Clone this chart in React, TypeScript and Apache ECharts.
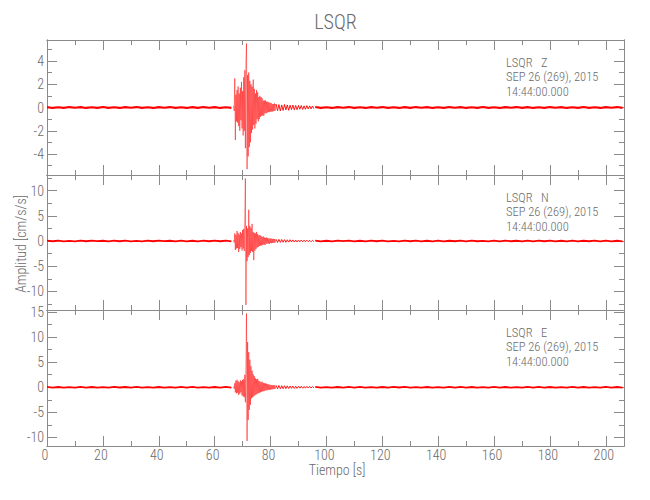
import React, { useEffect, useRef } from "react";
import * as echarts from "echarts";

// ---------- texts ----------
const TITLE = "LSQR";
const STATION = "LSQR";
const COMPONENTS = ["Z", "N", "E"];
const DATE_LINE = "SEP 26 (269), 2015";
const TIME_LINE = "14:44:00.000";
const X_NAME = "Tiempo [s]";
const Y_NAME = "Amplitud [cm/s/s]";

// ---------- axes ----------
const X_MIN = 0;
const X_MAX = 206.5;
const X_MAJOR = [0, 20, 40, 60, 80, 100, 120, 140, 160, 180, 200];
const X_MINOR = [10, 30, 50, 70, 90, 110, 130, 150, 170, 190];

const Y_MIN = [-5.8, -13.7, -11.7];
const Y_MAX = [5.8, 13.1, 15.4];
const Y_MAJOR = [
  [-4, -2, 0, 2, 4],
  [-10, -5, 0, 5, 10],
  [-10, -5, 0, 5, 10, 15],
];
const Y_MINOR = [
  [-5, -3, -1, 1, 3, 5],
  [-12.5, -7.5, -2.5, 2.5, 7.5, 12.5],
  [-7.5, -2.5, 2.5, 7.5, 12.5],
];

// ---------- sampling of each trace segment (time in s) ----------
const PRE_START = 0;
const PRE_STEP = 2;
const BURST_START = 66.8;
const BURST_STEP = 0.2;
const TAIL_START = 82;
const TAIL_STEP = 0.5;
const POST_START = 96;
const POST_STEP = 2;

// ---------- Z component (cm/s/s) ----------
const zPre = [
  0.03, -0.04, 0.02, -0.03, 0.04, -0.02, 0.03, -0.04, 0.02, -0.03,
  0.04, -0.03, 0.02, -0.04, 0.03, -0.02, 0.04, -0.03, 0.02, -0.04,
  0.03, -0.02, 0.04, -0.03, 0.02, -0.04, 0.03, -0.03, 0.04, -0.02,
  0.03, -0.04, 0.02, -0.03,
];
const zBurst = [
  0.15, -0.3, 2.5, -2.8, 1.1, -1.2, 1.5, -1.3, 1.8, -1.6,
  1.2, -2.0, 1.7, -1.1, 2.2, -1.8, 1.4, -2.4, 2.6, -2.0,
  3.2, -3.5, 3.8, 5.5, -5.3, 2.8, -4.2, 3.0, -3.4, 2.3,
  -3.0, 2.0, -2.2, 1.8, -1.9, 2.4, -1.5, 1.6, -1.8, 1.2,
  -1.4, 1.5, -1.0, 1.3, -1.2, 0.9, -1.0, 1.0, -0.8, 0.9,
  -0.7, 0.8, -0.7, 0.6, -0.7, 0.6, -0.5, 0.6, -0.5, 0.5,
  -0.45, 0.5, -0.4, 0.45, -0.4, 0.4, -0.35, 0.4, -0.35, 0.3,
  -0.35, 0.3, -0.3, 0.35, -0.3, 0.28,
];
const zTail = [
  0.3, -0.28, 0.25, -0.3, 0.22, -0.25, 0.26, -0.2, 0.22, -0.24,
  0.2, -0.18, 0.21, -0.2, 0.17, -0.19, 0.18, -0.15, 0.17, -0.16,
  0.14, -0.15, 0.16, -0.13, 0.14, -0.12, 0.13, -0.1,
];
const zPost = [
  0.04, -0.03, 0.02, -0.04, 0.03, -0.02, 0.04, -0.03, 0.02, -0.04,
  0.03, -0.02, 0.04, -0.03, 0.02, -0.04, 0.03, -0.03, 0.04, -0.02,
  0.03, -0.04, 0.02, -0.03, 0.04, -0.02, 0.03, -0.04, 0.02, -0.03,
  0.04, -0.03, 0.02, -0.04, 0.03, -0.02, 0.04, -0.03, 0.03, -0.04,
  0.02, -0.03, 0.04, -0.02, 0.03, -0.04, 0.02, -0.03, 0.04, -0.03,
  0.02, -0.04, 0.03, -0.02, 0.04, -0.03,
];

// ---------- N component ----------
const nPre = [
  0.06, -0.05, 0.07, -0.06, 0.04, -0.07, 0.06, -0.05, 0.07, -0.04,
  0.05, -0.07, 0.06, -0.05, 0.07, -0.06, 0.04, -0.07, 0.06, -0.05,
  0.07, -0.04, 0.05, -0.07, 0.06, -0.06, 0.05, -0.07, 0.06, -0.05,
  0.06, -0.05, 0.07, -0.06,
];
const nBurst = [
  0.2, -0.3, 1.5, -1.8, 1.2, -1.5, 2.0, -1.4, 1.6, -2.2,
  1.3, -1.6, 1.8, -1.2, 1.5, -1.9, 2.2, -1.5, 2.4, -2.0,
  4.5, 12.4, -12.7, 3.0, -4.0, 2.5, -3.2, 6.2, -2.8, 3.0,
  -2.4, 2.6, -2.0, 3.4, -2.2, 1.8, -3.8, 1.6, -1.9, 1.5,
  -1.6, 1.8, -1.3, 1.4, -1.2, 1.1, -1.0, 1.2, -0.9, 1.0,
  -0.9, 0.8, -0.8, 0.9, -0.7, 0.7, -0.8, 0.6, -0.6, 0.7,
  -0.5, 0.6, -0.5, 0.5, -0.6, 0.5, -0.4, 0.5, -0.45, 0.4,
  -0.4, 0.45, -0.35, 0.4, -0.35, 0.3,
];
const nTail = [
  0.35, -0.3, 0.32, -0.28, 0.3, -0.25, 0.27, -0.26, 0.24, -0.22,
  0.25, -0.2, 0.22, -0.21, 0.19, -0.2, 0.18, -0.17, 0.19, -0.16,
  0.17, -0.15, 0.16, -0.15, 0.14, -0.15, 0.13, -0.12,
];
const nPost = [
  0.06, -0.07, 0.05, -0.06, 0.07, -0.04, 0.06, -0.07, 0.05, -0.07,
  0.06, -0.05, 0.07, -0.06, 0.04, -0.07, 0.06, -0.05, 0.07, -0.06,
  0.05, -0.07, 0.06, -0.07, 0.05, -0.05, 0.07, -0.06, 0.07, -0.05,
  0.04, -0.07, 0.06, -0.06, 0.07, -0.05, 0.05, -0.07, 0.07, -0.06,
  0.06, -0.05, 0.07, -0.07, 0.05, -0.06, 0.07, -0.07, 0.05, -0.05,
  0.07, -0.06, 0.06, -0.07, 0.05, -0.06,
];

// ---------- E component ----------
const ePre = [
  0.07, -0.05, 0.06, -0.07, 0.05, -0.06, 0.07, -0.05, 0.06, -0.07,
  0.05, -0.07, 0.07, -0.04, 0.06, -0.06, 0.07, -0.05, 0.05, -0.07,
  0.06, -0.07, 0.05, -0.06, 0.07, -0.05, 0.07, -0.06, 0.04, -0.07,
  0.06, -0.05, 0.07, -0.06,
];
const eBurst = [
  0.2, -0.3, 0.8, -1.0, 1.3, -1.2, 1.5, -1.1, 1.2, -1.5,
  1.0, -1.3, 1.4, -1.0, 1.2, -1.6, 1.5, -1.8, 1.6, -2.0,
  2.5, -3.0, 4.0, 14.7, -10.7, 9.0, -6.5, 7.0, -4.5, 5.5,
  -3.5, 4.2, -2.2, 3.3, -2.0, 2.6, -1.8, 2.2, -1.6, 1.8,
  -1.5, 1.6, -1.3, 1.7, -1.2, 1.3, -1.1, 1.2, -1.0, 1.0,
  -0.9, 1.1, -0.8, 0.9, -0.8, 0.8, -0.7, 0.8, -0.6, 0.7,
  -0.6, 0.6, -0.5, 0.6, -0.5, 0.5, -0.5, 0.45, -0.4, 0.45,
  -0.4, 0.4, -0.35, 0.4, -0.35, 0.3,
];
const eTail = [
  0.38, -0.32, 0.35, -0.3, 0.32, -0.28, 0.3, -0.27, 0.28, -0.25,
  0.26, -0.22, 0.24, -0.23, 0.2, -0.22, 0.21, -0.18, 0.2, -0.19,
  0.17, -0.18, 0.16, -0.15, 0.17, -0.14, 0.15, -0.12,
];
const ePost = [
  0.07, -0.06, 0.05, -0.07, 0.06, -0.05, 0.07, -0.06, 0.07, -0.05,
  0.05, -0.07, 0.06, -0.06, 0.07, -0.04, 0.07, -0.07, 0.05, -0.06,
  0.06, -0.07, 0.05, -0.05, 0.07, -0.06, 0.07, -0.05, 0.06, -0.07,
  0.05, -0.06, 0.07, -0.05, 0.06, -0.07, 0.05, -0.06, 0.07, -0.05,
  0.07, -0.07, 0.06, -0.05, 0.05, -0.07, 0.07, -0.06, 0.06, -0.05,
  0.05, -0.07, 0.07, -0.06, 0.06, -0.05,
];

// ---------- styles / layout ----------
const FONT = "'Roboto Condensed', 'Liberation Sans', sans-serif";
const TEXT_COLOR = "#6a6a6a";
const AXIS_COLOR = "#8a8a8a";
const TRACE_COLOR = "#ff0000";
const GRID_LEFT = 47;
const GRID_RIGHT = 26;
const GRID_TOPS = [40, 175, 310];
const GRID_HEIGHTS = [135, 135, 136];
const NOISE_WIDTH = [2.2, 1.8, 1.8];

function seg(start: number, step: number, vals: number[]): [number, number][] {
  return vals.map((v, i) => [+(start + i * step).toFixed(3), v] as [number, number]);
}

const PRE = [seg(PRE_START, PRE_STEP, zPre), seg(PRE_START, PRE_STEP, nPre), seg(PRE_START, PRE_STEP, ePre)];
const POST = [seg(POST_START, POST_STEP, zPost), seg(POST_START, POST_STEP, nPost), seg(POST_START, POST_STEP, ePost)];
const BURST = [seg(BURST_START, BURST_STEP, zBurst), seg(BURST_START, BURST_STEP, nBurst), seg(BURST_START, BURST_STEP, eBurst)];
const TAIL = [seg(TAIL_START, TAIL_STEP, zTail), seg(TAIL_START, TAIL_STEP, nTail), seg(TAIL_START, TAIL_STEP, eTail)];

function xAxisDef(g: number, position: string, ticks: number[], len: number, labels: boolean) {
  return {
    type: "value",
    gridIndex: g,
    position,
    min: X_MIN,
    max: X_MAX,
    axisLine: { show: true, onZero: false, lineStyle: { color: AXIS_COLOR, width: 1 } },
    axisTick: { show: true, inside: true, length: len, customValues: ticks, lineStyle: { color: AXIS_COLOR, width: 1 } },
    axisLabel: labels
      ? { show: true, customValues: ticks, color: TEXT_COLOR, fontFamily: FONT, fontWeight: 300, fontSize: 14, margin: 2, padding: [0, 4, 0, 0], lineHeight: 14 }
      : { show: false },
    splitLine: { show: false },
  };
}

function yAxisDef(g: number, position: string, ticks: number[], len: number, labels: boolean) {
  return {
    type: "value",
    gridIndex: g,
    position,
    min: Y_MIN[g],
    max: Y_MAX[g],
    axisLine: { show: true, onZero: false, lineStyle: { color: AXIS_COLOR, width: 1 } },
    axisTick: { show: true, inside: true, length: len, customValues: ticks, lineStyle: { color: AXIS_COLOR, width: 1 } },
    axisLabel: labels
      ? { show: true, customValues: ticks, color: TEXT_COLOR, fontFamily: FONT, fontWeight: 300, fontSize: 14, margin: 3, lineHeight: 14 }
      : { show: false },
    splitLine: { show: false },
  };
}

function txt(text: string, x: number, y: number, size: number, align = "left", extra: any = {}, lh = 0) {
  return {
    type: "text",
    x,
    y,
    silent: true,
    ...extra,
    style: {
      text,
      fill: TEXT_COLOR,
      fontSize: size,
      fontFamily: FONT,
      fontWeight: 300,
      lineHeight: lh || size,
      align,
      textAlign: align,
      verticalAlign: "middle",
      textVerticalAlign: "middle",
    },
  };
}

function lineSeries(g: number, data: [number, number][], width: number, name?: string) {
  return {
    type: "line",
    name,
    xAxisIndex: g * 4,
    yAxisIndex: g * 4,
    data,
    showSymbol: false,
    symbol: "none",
    silent: true,
    lineStyle: { color: TRACE_COLOR, width },
  };
}

export default function App() {
  const ref = useRef<HTMLDivElement>(null);

  useEffect(() => {
    if (!ref.current) return;
    const chart = echarts.init(ref.current, null, { renderer: "svg" });

    const grids: any[] = [];
    const xAxes: any[] = [];
    const yAxes: any[] = [];
    const series: any[] = [];
    const graphics: any[] = [];

    for (let g = 0; g < 3; g++) {
      grids.push({ left: GRID_LEFT, right: GRID_RIGHT, top: GRID_TOPS[g], height: GRID_HEIGHTS[g], containLabel: false });
      xAxes.push(xAxisDef(g, "bottom", X_MAJOR, 10, g === 2));
      xAxes.push(xAxisDef(g, "bottom", X_MINOR, 5, false));
      xAxes.push(xAxisDef(g, "top", X_MAJOR, 10, false));
      xAxes.push(xAxisDef(g, "top", X_MINOR, 5, false));
      yAxes.push(yAxisDef(g, "left", Y_MAJOR[g], 10, true));
      yAxes.push(yAxisDef(g, "left", Y_MINOR[g], 5, false));
      yAxes.push(yAxisDef(g, "right", Y_MAJOR[g], 10, false));
      yAxes.push(yAxisDef(g, "right", Y_MINOR[g], 5, false));

      series.push(lineSeries(g, PRE[g], NOISE_WIDTH[g]));
      series.push(lineSeries(g, POST[g], NOISE_WIDTH[g]));
      series.push(lineSeries(g, BURST[g], 0.5, COMPONENTS[g]));
      series.push(lineSeries(g, TAIL[g], 0.9));

      const top = GRID_TOPS[g];
      graphics.push(txt(`${STATION}   ${COMPONENTS[g]}`, 506, top + 22, 12.5, "left", {}, 12.5));
      graphics.push(txt(DATE_LINE, 506, top + 36.5, 12.5, "left", {}, 12.5));
      graphics.push(txt(TIME_LINE, 506, top + 51, 12.5, "left", {}, 12.5));
    }

    graphics.push(txt(TITLE, 335.5, 22, 20, "center"));
    graphics.push(txt(X_NAME, 337, 470, 14, "center"));
    graphics.push(txt(Y_NAME, 21, 244, 14, "center", { rotation: Math.PI / 2 }, 12));

    chart.setOption({
      animation: false,
      backgroundColor: "#ffffff",
      grid: grids,
      xAxis: xAxes,
      yAxis: yAxes,
      series,
      graphic: graphics,
    });

    return () => chart.dispose();
  }, []);

  return (
    <div
      ref={ref}
      style={{ position: "absolute", left: 0, top: 0, width: 650, height: 500 }}
    />
  );
}
